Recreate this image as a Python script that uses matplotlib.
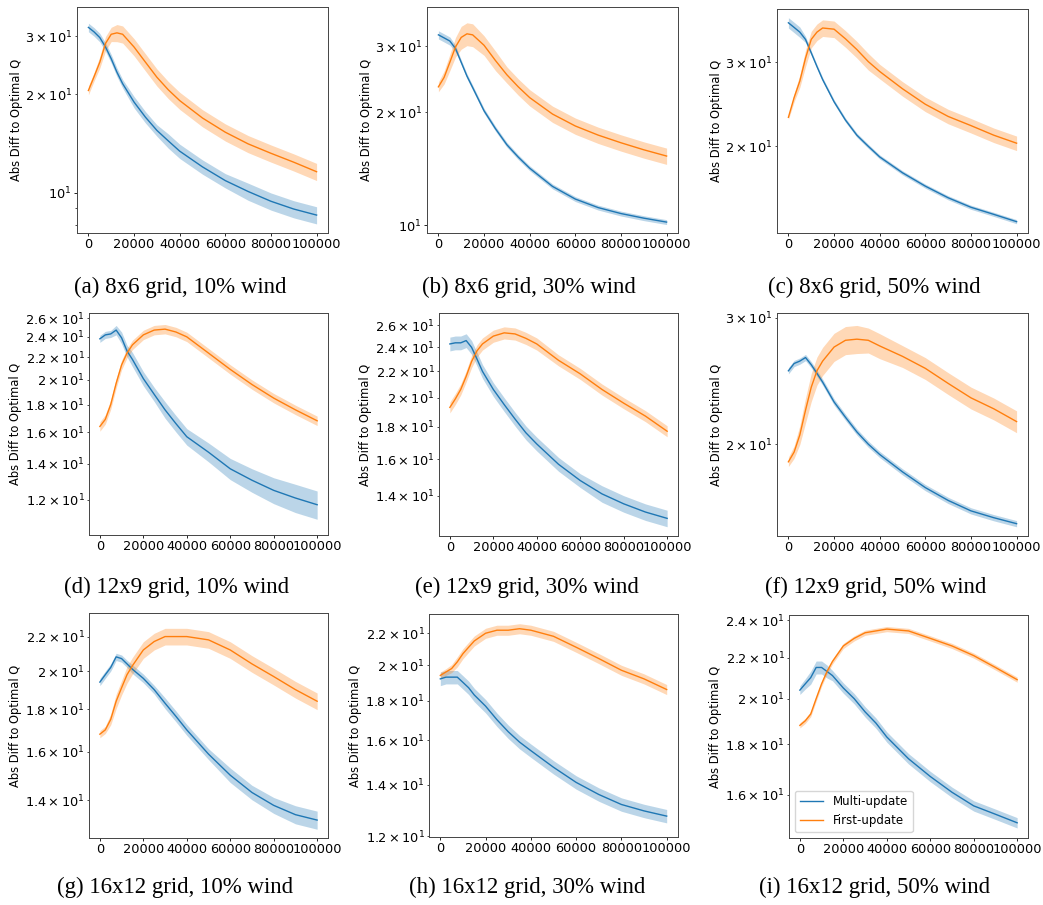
import numpy as np
import matplotlib.pyplot as plt

plt.rcParams.update({'font.size': 9.3,
                     'axes.linewidth': 0.7,
                     'axes.edgecolor': '#444444',
                     'xtick.major.size': 2.2,
                     'xtick.major.width': 0.6,
                     'xtick.major.pad': 1.5,
                     'ytick.major.size': 2.2,
                     'ytick.major.width': 0.6,
                     'ytick.major.pad': 1.5,
                     'ytick.minor.size': 1.5,
                     'ytick.minor.width': 0.5,
                     'ytick.minor.pad': 1.5,
                     'lines.linewidth': 1.0})

steps = [0, 2500, 5000, 7500, 10000, 12500, 15000, 20000, 25000, 30000,
         35000, 40000, 50000, 60000, 70000, 80000, 90000, 100000]

# (a) 8x6 grid, 10% wind
a_multi = [31.9, 30.9, 29.7, 27.8, 25.6, 23.3, 21.5, 18.9, 17.0, 15.5, 14.4, 13.4, 12.0, 10.9, 10.1, 9.43, 8.93, 8.56]
a_first = [20.5, 22.6, 25.0, 28.5, 30.4, 30.7, 30.4, 27.8, 25.0, 22.5, 20.6, 19.1, 16.9, 15.3, 14.1, 13.2, 12.4, 11.6]
a_multi_band = [3, 3, 3, 3, 3, 3, 3, 4, 4, 4, 5, 5, 5, 5, 6, 6, 6, 6]
a_first_band = [3, 3, 4, 5, 5, 6, 6, 6, 6, 6, 6, 6, 6, 6, 6, 6, 6, 6]

# (b) 8x6 grid, 30% wind
b_multi = [32.2, 31.6, 31.0, 29.6, 27.2, 25.0, 23.3, 20.2, 18.1, 16.4, 15.2, 14.2, 12.7, 11.75, 11.15, 10.75, 10.45, 10.2]
b_first = [23.4, 24.8, 27.2, 29.9, 31.7, 32.4, 32.2, 30.2, 27.5, 25.2, 23.4, 21.9, 19.8, 18.4, 17.4, 16.6, 15.9, 15.3]
b_multi_band = [2.5, 2.5, 2.5, 2, 1.5, 1.5, 1.5, 1.5, 1.5, 1.5, 1.5, 1.5, 1.5, 1.5, 1.5, 1.5, 1.5, 1.5]
b_first_band = [3, 4, 5, 6, 7, 7, 7, 6, 6, 5, 5, 5, 5, 5, 5, 5, 5, 5]

# (c) 8x6 grid, 50% wind
c_multi = [36.3, 35.5, 34.7, 33.5, 31.4, 29.4, 27.6, 24.8, 22.7, 21.1, 20.0, 19.0, 17.6, 16.5, 15.6, 14.9, 14.4, 13.9]
c_first = [23.0, 25.3, 27.4, 30.6, 33.5, 34.7, 35.4, 35.2, 33.6, 31.9, 30.1, 28.7, 26.4, 24.5, 23.1, 22.1, 21.1, 20.3]
c_multi_band = [2.5, 2.5, 2.5, 1.5, 1, 1, 1, 1, 1, 1, 1, 1, 1, 1, 1, 1, 1, 1]
c_first_band = [1, 2, 3, 4, 4, 4, 4, 4, 4, 4, 4, 3.5, 3.5, 3.5, 3.5, 3.5, 3.5, 3.5]

# (d) 12x9 grid, 10% wind
d_multi = [23.8, 24.2, 24.3, 24.7, 23.9, 22.6, 21.8, 20.1, 18.8, 17.6, 16.6, 15.7, 14.7, 13.7, 13.05, 12.5, 12.1, 11.76]
d_first = [16.4, 16.9, 18.0, 19.7, 21.3, 22.4, 23.2, 24.2, 24.7, 24.8, 24.5, 24.0, 22.4, 20.9, 19.6, 18.5, 17.6, 16.8]
d_multi_band = [1.5, 1.5, 1.5, 2, 2.5, 2.5, 3, 3, 3, 3.5, 3.5, 3.5, 4, 4.5, 5, 5.5, 6, 6]
d_first_band = [2, 2, 2, 2, 2, 2, 2, 2, 2, 2, 2, 2, 2, 2, 2, 2, 2, 2]

# (e) 12x9 grid, 30% wind
e_multi = [24.3, 24.4, 24.4, 24.6, 24.0, 23.0, 22.0, 20.6, 19.5, 18.5, 17.6, 16.9, 15.7, 14.8, 14.1, 13.6, 13.2, 12.9]
e_first = [19.3, 19.9, 20.6, 21.6, 22.8, 23.7, 24.3, 25.0, 25.3, 25.2, 24.8, 24.3, 22.9, 21.8, 20.6, 19.6, 18.7, 17.7]
e_multi_band = [2.5, 2.5, 2.5, 2.5, 2.5, 2.5, 2.5, 2.5, 2.5, 2.5, 2.5, 2.5, 2.5, 2.5, 3, 3, 3, 3]
e_first_band = [2, 2, 2, 2, 2.2, 2.2, 2.2, 2.2, 2.2, 2.2, 2.2, 2.2, 2, 2, 2, 2, 2, 2]

# (f) 12x9 grid, 50% wind
f_multi = [25.3, 25.9, 26.1, 26.4, 25.8, 25.1, 24.4, 22.9, 21.8, 20.8, 20.0, 19.35, 18.3, 17.4, 16.7, 16.15, 15.8, 15.5]
f_first = [18.9, 19.5, 20.6, 22.3, 24.0, 25.3, 26.1, 27.3, 27.9, 28.0, 27.9, 27.4, 26.5, 25.5, 24.3, 23.2, 22.4, 21.5]
f_multi_band = [1, 1, 1, 1, 1, 1, 1, 1, 1, 1, 1, 1, 1, 1, 1, 1, 1, 1]
f_first_band = [1.5, 2, 3, 4, 4.5, 4.5, 4.5, 4.5, 4.5, 4.5, 4, 4, 3.5, 3.5, 3.5, 3.5, 3.5, 3.5]

# (g) 16x12 grid, 10% wind
g_multi = [19.4, 19.8, 20.2, 20.8, 20.7, 20.4, 20.1, 19.6, 19.0, 18.3, 17.65, 17.0, 15.9, 15.0, 14.3, 13.8, 13.45, 13.25]
g_first = [16.8, 17.0, 17.5, 18.4, 19.1, 19.8, 20.3, 21.2, 21.7, 22.0, 22.0, 22.0, 21.8, 21.2, 20.4, 19.7, 19.0, 18.4]
g_multi_band = [1, 1, 1, 1, 1, 1, 1.2, 1.2, 1.2, 1.5, 1.5, 1.5, 1.5, 2, 2, 2.2, 2.5, 2.5]
g_first_band = [1, 1, 1.5, 2, 2, 2.3, 2.3, 2.3, 2.3, 2.3, 2.3, 2.3, 2.3, 2.3, 2.3, 2.3, 2.3, 2.3]

# (h) 16x12 grid, 30% wind
h_multi = [19.2, 19.3, 19.3, 19.3, 19.0, 18.7, 18.3, 17.7, 17.0, 16.4, 15.9, 15.5, 14.75, 14.1, 13.6, 13.2, 12.95, 12.75]
h_first = [19.4, 19.6, 19.8, 20.2, 20.7, 21.1, 21.5, 22.0, 22.2, 22.2, 22.3, 22.2, 21.8, 21.1, 20.4, 19.7, 19.2, 18.6]
h_multi_band = [2, 2, 2, 2, 2, 2, 2, 2, 2, 2, 2, 2, 2, 2, 2, 2, 2, 2]
h_first_band = [1, 1, 1.2, 1.5, 1.5, 1.5, 1.5, 1.5, 1.5, 1.5, 1.5, 1.5, 1.5, 1.5, 1.5, 1.5, 1.5, 1.5]

# (i) 16x12 grid, 50% wind
i_multi = [20.4, 20.7, 21.0, 21.5, 21.5, 21.3, 21.1, 20.5, 20.0, 19.4, 18.9, 18.3, 17.4, 16.7, 16.1, 15.6, 15.3, 15.0]
i_first = [18.8, 19.0, 19.3, 20.0, 20.7, 21.3, 21.8, 22.6, 23.0, 23.3, 23.4, 23.5, 23.4, 23.0, 22.6, 22.1, 21.5, 20.9]
i_multi_band = [1, 1.2, 1.5, 1.5, 1.5, 1.5, 1.2, 1.2, 1.2, 1.2, 1.2, 1.2, 1.2, 1.2, 1.2, 1.2, 1.2, 1.2]
i_first_band = [0.6, 0.6, 0.6, 0.6, 0.6, 0.6, 0.6, 0.6, 0.6, 0.6, 0.6, 0.6, 0.6, 0.6, 0.6, 0.6, 0.6, 0.6]

captions = ['(a) 8x6 grid, 10% wind', '(b) 8x6 grid, 30% wind', '(c) 8x6 grid, 50% wind',
            '(d) 12x9 grid, 10% wind', '(e) 12x9 grid, 30% wind', '(f) 12x9 grid, 50% wind',
            '(g) 16x12 grid, 10% wind', '(h) 16x12 grid, 30% wind', '(i) 16x12 grid, 50% wind']
ylims = [(7.55, 36.8), (9.54, 38.2), (13.16, 38.8),
         (10.34, 26.56), (12.10, 27.19), (14.90, 30.45),
         (12.61, 23.48), (11.98, 23.30), (14.48, 24.28)]

series = [(a_multi, a_multi_band, a_first, a_first_band),
          (b_multi, b_multi_band, b_first, b_first_band),
          (c_multi, c_multi_band, c_first, c_first_band),
          (d_multi, d_multi_band, d_first, d_first_band),
          (e_multi, e_multi_band, e_first, e_first_band),
          (f_multi, f_multi_band, f_first, f_first_band),
          (g_multi, g_multi_band, g_first, g_first_band),
          (h_multi, h_multi_band, h_first, h_first_band),
          (i_multi, i_multi_band, i_first, i_first_band)]

# axes boxes in pixels (left, top, right, bottom) and caption centres
W, H = 1043, 905
boxes = [(77, 7, 328, 233), (427, 7, 678, 233), (777, 9, 1028, 233),
         (89, 313, 328, 535), (439, 313, 678, 536), (777, 313, 1028, 536),
         (89, 613, 328, 838), (429, 614, 678, 837), (789, 615, 1028, 838)]
cap_pos = [(180, 287), (529, 287), (874, 287),
           (177, 587), (527, 587), (876, 587),
           (175, 887), (527, 887), (875, 887)]

fig = plt.figure(figsize=(W / 100, H / 100), dpi=100)
x = np.array(steps)

for k in range(9):
    l, t, r, b = boxes[k]
    ax = fig.add_axes([l / W, 1 - b / H, (r - l) / W, (b - t) / H])
    multi, mband, first, fband = series[k]
    for vals, band, col, lab in [(multi, mband, 'C0', 'Multi-update'),
                                 (first, fband, 'C1', 'First-update')]:
        v = np.array(vals)
        s = np.array(band) / 100.0
        ax.fill_between(x, v * (1 - s), v * (1 + s), color=col, alpha=0.3, lw=0)
        ax.plot(x, v, color=col, label=lab)
    ax.set_yscale('log')
    ax.set_ylim(*ylims[k])
    ax.set_xlim(-5000, 105000)
    ax.set_xticks([0, 20000, 40000, 60000, 80000, 100000])
    ax.set_ylabel('Abs Diff to Optimal Q', fontsize=8.3, labelpad=2)
    if k == 8:
        ax.legend(loc='lower left', fontsize=8.5)
    cx, cy = cap_pos[k]
    fig.text(cx / W, 1 - cy / H, captions[k], ha='center', va='center',
             family='Liberation Serif', fontsize=16.5)

plt.savefig('out.png', dpi=100)
